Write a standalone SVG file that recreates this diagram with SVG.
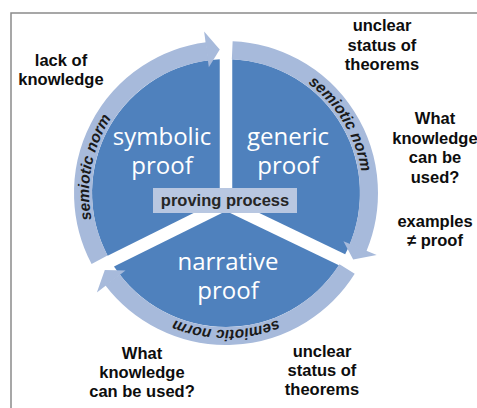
<svg xmlns="http://www.w3.org/2000/svg" xmlns:xlink="http://www.w3.org/1999/xlink" width="477" height="408" viewBox="0 0 477 408">
<style>
.sector{fill:#4f81bd;}
.stxt{fill:#ffffff;font-family:"Open Sans","Noto Sans",sans-serif;font-size:24px;text-anchor:middle;}
.ring{fill:none;stroke:#a7badb;stroke-width:18;stroke-linecap:butt;}
.norm{fill:#1a1a1a;font-family:"Liberation Sans",Arial,sans-serif;font-size:15.5px;font-weight:bold;font-style:italic;}
.lbl{fill:#0d0d0d;font-family:"Liberation Sans",Arial,sans-serif;font-size:16.5px;font-weight:bold;text-anchor:middle;}
</style>
<defs>
<marker id="head" markerUnits="userSpaceOnUse" viewBox="-2 -22 16 44" markerWidth="16" markerHeight="44" refX="0" refY="0" orient="auto" overflow="visible">
<path d="M-0.6,-20 L12.5,0 L-0.6,16 Z" fill="#a7badb"/>
</marker>
<path id="p-left" d="M106.2,259.4 A137,137 0 0 1 139.8,86.5"/>
<path id="p-right" d="M270.6,63.5 A137,137 0 0 1 361.3,214.4"/>
<path id="p-bottom" d="M314.1,297.9 A137,137 0 0 1 137.9,297.9"/>
</defs>
<rect x="11" y="13" width="520" height="450" fill="none" stroke="#8a8a8a" stroke-width="1.5"/>

<g id="symbolic-proof">
<path class="sector" d="M219.75,59.15 A134,134 0 0 0 107.6,255.7 L219.75,200.1 Z"/>
<text class="stxt" x="162" y="145">symbolic</text>
<text class="stxt" x="162" y="174">proof</text>
</g>
<g id="generic-proof">
<path class="sector" d="M232.25,59.15 A134,134 0 0 1 345.17,254.27 L232.25,200.07 Z"/>
<text class="stxt" x="288" y="145">generic</text>
<text class="stxt" x="288" y="174">proof</text>
</g>
<g id="narrative-proof">
<path class="sector" d="M338.93,265.13 A134,134 0 0 1 113.99,266.53 L226.04,210.96 Z"/>
<text class="stxt" x="228" y="270">narrative</text>
<text class="stxt" x="228" y="299">proof</text>
</g>
<g id="proving-process">
<rect x="153" y="188" width="144" height="25" fill="#b8c7e1"/>
<text x="225" y="205.5" fill="#262626" font-family="'Liberation Sans',Arial,sans-serif" font-size="16.5" font-weight="bold" text-anchor="middle">proving process</text>
</g>

<g id="connectors">
<path class="ring" d="M99.54,259.75 A143,143 0 0 1 207.34,51.23" marker-end="url(#head)"/>
<path class="ring" d="M232.25,50.14 A143,143 0 0 1 358.0,247.96" marker-end="url(#head)"/>
<path class="ring" d="M347.1,269.05 A143,143 0 0 1 112.4,279.86" marker-end="url(#head)"/>
<text class="norm"><textPath xlink:href="#p-left" href="#p-left" startOffset="50%" text-anchor="middle">semiotic norm</textPath></text>
<text class="norm"><textPath xlink:href="#p-right" href="#p-right" startOffset="50%" text-anchor="middle">semiotic norm</textPath></text>
<text class="norm"><textPath xlink:href="#p-bottom" href="#p-bottom" startOffset="50%" text-anchor="middle">semiotic norm</textPath></text>
</g>

<g id="label-lack-of-knowledge">
<text class="lbl" x="61" y="66">lack of</text>
<text class="lbl" x="61" y="85">knowledge</text>
</g>
<g id="label-unclear-top">
<text class="lbl" x="382" y="31">unclear</text>
<text class="lbl" x="382" y="50.5">status of</text>
<text class="lbl" x="382" y="70">theorems</text>
</g>
<g id="label-what-knowledge-right">
<text class="lbl" x="435" y="124">What</text>
<text class="lbl" x="435" y="143.5">knowledge</text>
<text class="lbl" x="435" y="163">can be</text>
<text class="lbl" x="435" y="182.5">used?</text>
</g>
<g id="label-examples">
<text class="lbl" x="435" y="227">examples</text>
<text class="lbl" x="435" y="246">≠ proof</text>
</g>
<g id="label-unclear-bottom">
<text class="lbl" x="322" y="357">unclear</text>
<text class="lbl" x="322" y="376">status of</text>
<text class="lbl" x="322" y="395">theorems</text>
</g>
<g id="label-what-knowledge-bottom">
<text class="lbl" x="142" y="359">What</text>
<text class="lbl" x="142" y="378">knowledge</text>
<text class="lbl" x="142" y="397">can be used?</text>
</g>
</svg>
